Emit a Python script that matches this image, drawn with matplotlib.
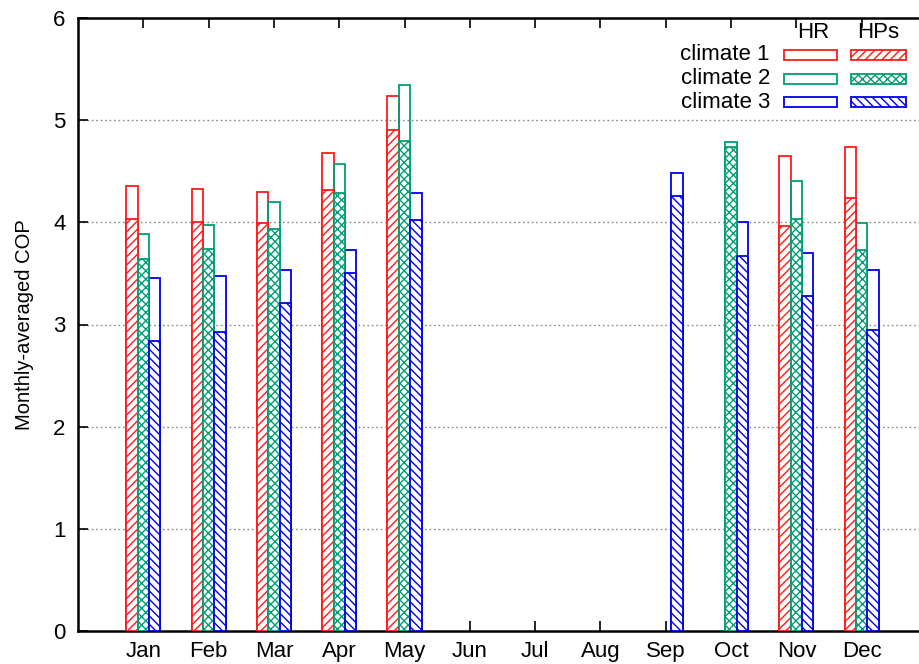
import numpy as np
import matplotlib
matplotlib.use("Agg")
import matplotlib.pyplot as plt
from matplotlib.patches import Rectangle

plt.rcParams["font.family"] = ["Liberation Sans", "DejaVu Sans"]
plt.rcParams["hatch.linewidth"] = 1.0

months = ["Jan", "Feb", "Mar", "Apr", "May", "Jun", "Jul", "Aug", "Sep", "Oct", "Nov", "Dec"]
climates = ["climate 1", "climate 2", "climate 3"]
# HR = upper (outline) values, HPs = hatched values
hr_c1 = [4.36, 4.33, 4.30, 4.68, 5.24, 0, 0, 0, 0, 0, 4.65, 4.74]
hps_c1 = [4.03, 4.00, 3.99, 4.32, 4.90, 0, 0, 0, 0, 0, 3.96, 4.24]
hr_c2 = [3.89, 3.97, 4.20, 4.57, 5.34, 0, 0, 0, 0, 4.79, 4.40, 3.99]
hps_c2 = [3.64, 3.74, 3.93, 4.29, 4.80, 0, 0, 0, 0, 4.74, 4.03, 3.73]
hr_c3 = [3.46, 3.47, 3.53, 3.73, 4.29, 0, 0, 0, 4.48, 4.00, 3.70, 3.53]
hps_c3 = [2.84, 2.93, 3.21, 3.50, 4.02, 0, 0, 0, 4.26, 3.67, 3.28, 2.95]

colors = ["#ff1a1a", "#009e73", "#0000ee"]
hatches = ["////", "xxxx", "\\\\\\\\"]

W, H = 919, 664
fig = plt.figure(figsize=(W / 100, H / 100), dpi=100)
ax = fig.add_axes([78 / W, 1 - 631 / H, 849 / W, 613 / H])

x = np.arange(1, 13)
bw = 0.174
series = [(hr_c1, hps_c1), (hr_c2, hps_c2), (hr_c3, hps_c3)]
for i, (hr, hps) in enumerate(series):
    pos = x + (i - 1) * bw
    hr = np.array(hr); hps = np.array(hps)
    m = hr > 0
    ax.bar(pos[m], hr[m], width=bw, facecolor="none", edgecolor=colors[i], linewidth=1.3, zorder=3)
    m = hps > 0
    ax.bar(pos[m], hps[m], width=bw, facecolor="white", edgecolor=colors[i], hatch=hatches[i],
           linewidth=1.3, zorder=4)

ax.set_xlim(0, 13)
ax.set_ylim(0, 6)
ax.set_xticks(x)
ax.set_xticklabels(months)
ax.set_yticks(range(0, 7))
ax.tick_params(axis="both", direction="in", labelsize=16, length=7, width=1.2,
               top=True, right=False)
ax.tick_params(axis="x", pad=7)
ax.tick_params(axis="y", pad=9)
for yv in range(1, 6):
    ax.axhline(yv, color="#888888", linestyle=(0, (1.2, 2)), linewidth=1.0, zorder=1)
for s in ax.spines.values():
    s.set_linewidth(1.8)
ax.set_ylabel("Monthly-averaged COP", fontsize=14.5, labelpad=14)

# legend drawn by hand (pixel positions)
def fx(px):
    return px / W

def fy(py):
    return 1 - py / H

fig.text(fx(813), fy(33), "HR", ha="center", va="center", fontsize=16)
fig.text(fx(878), fy(33), "HPs", ha="center", va="center", fontsize=16)
rows = [55, 79, 102]
for i, name in enumerate(climates):
    fig.text(fx(770), fy(rows[i]), name, ha="right", va="center", fontsize=16)
    fig.add_artist(Rectangle((fx(784), fy(rows[i] + 5)), fx(53), 10 / H, transform=fig.transFigure,
                             facecolor="white", edgecolor=colors[i], linewidth=1.3))
    fig.add_artist(Rectangle((fx(851), fy(rows[i] + 5)), fx(55), 10 / H, transform=fig.transFigure,
                             facecolor="white", edgecolor=colors[i], hatch=hatches[i], linewidth=1.3))

fig.savefig("out.png", dpi=100)
